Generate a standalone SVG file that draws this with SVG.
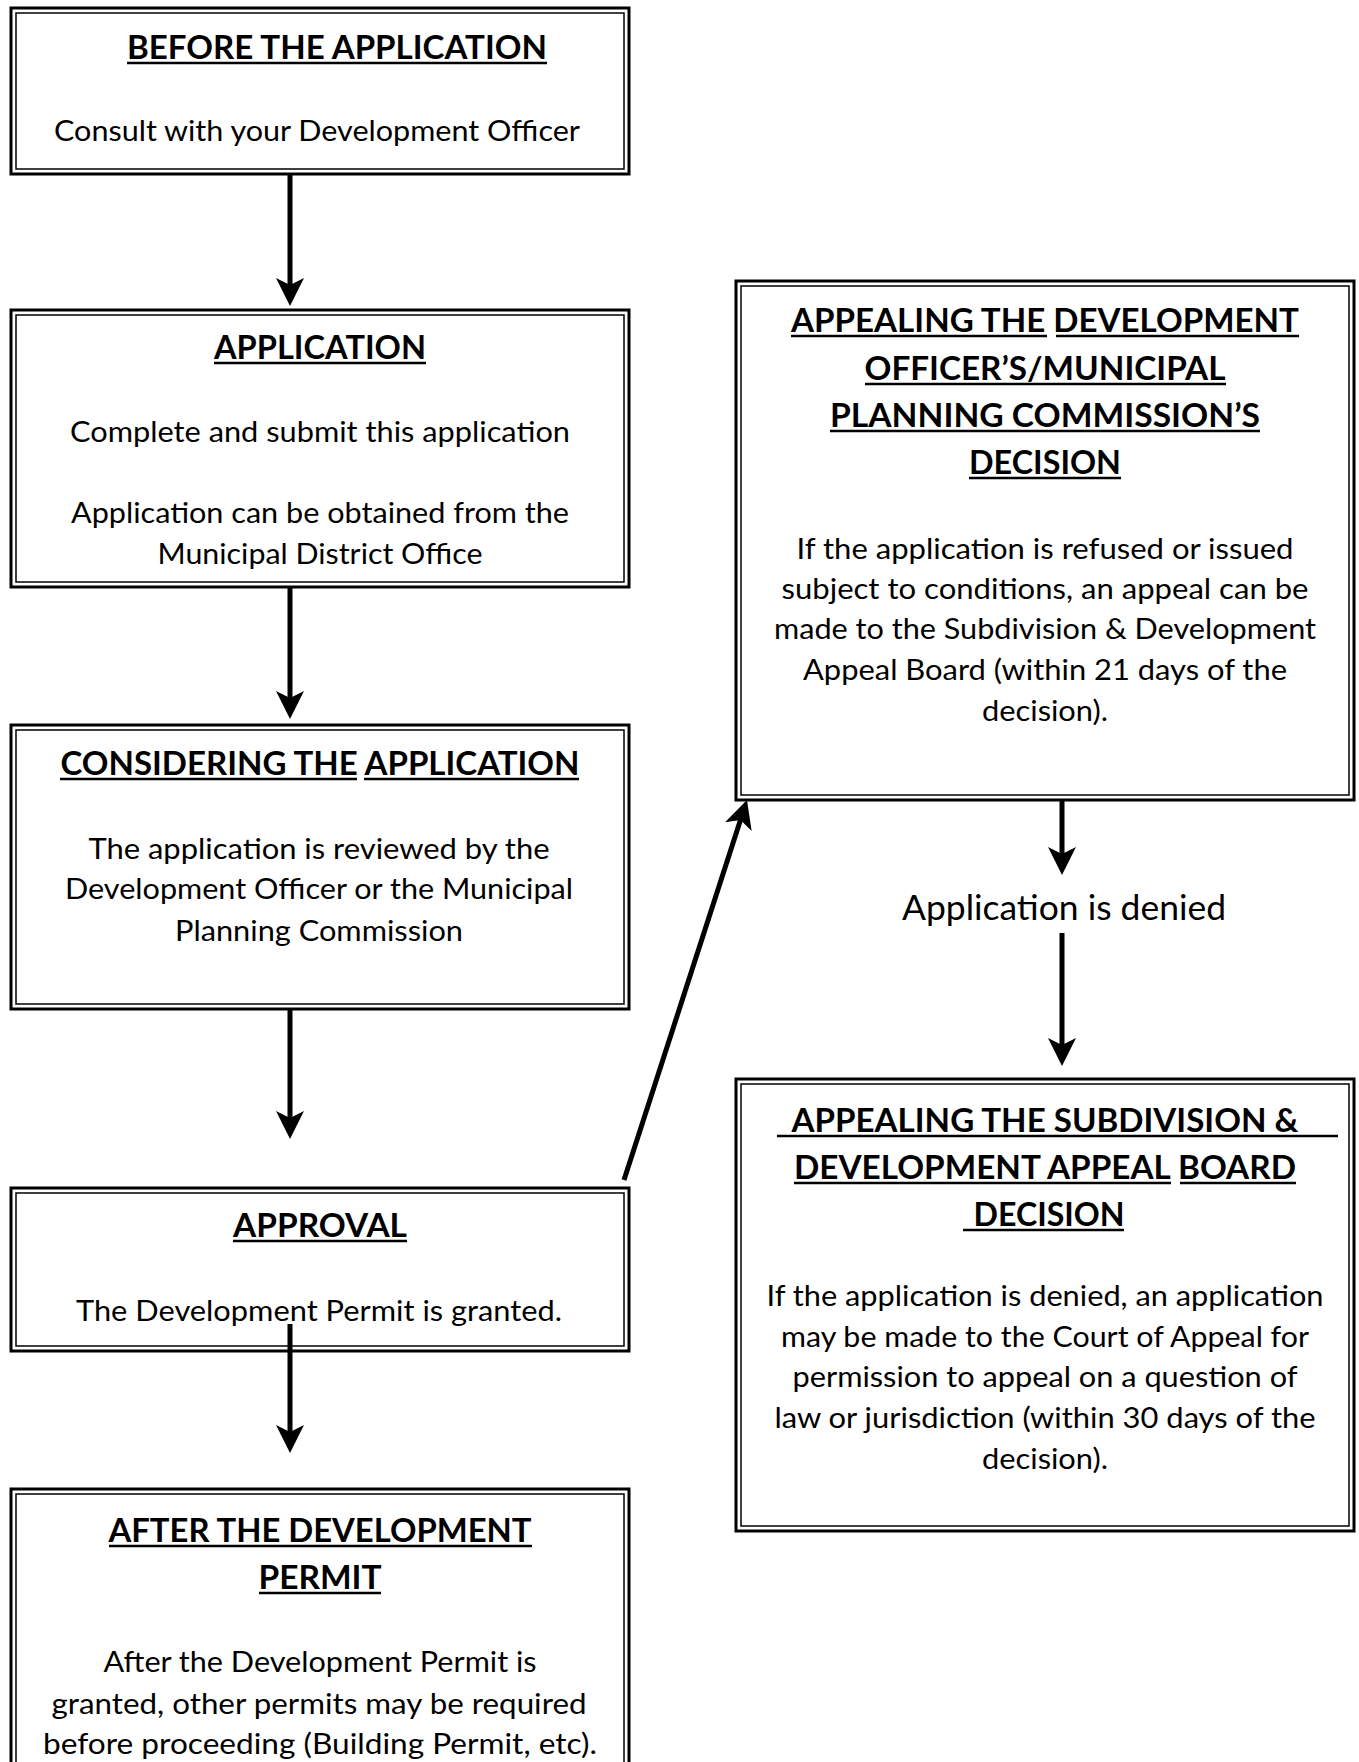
<svg xmlns="http://www.w3.org/2000/svg" width="1359" height="1762" viewBox="0 0 1359 1762">
<defs>
<style>
.outer{fill:#fff;stroke:#000;stroke-width:3}
.inner{fill:none;stroke:#000;stroke-width:1.5}
.t{font-family:Lato,"Open Sans","Liberation Sans",sans-serif;font-weight:bold;font-size:33px;fill:#000;text-anchor:middle}
.b{font-family:Lato,"Open Sans","Liberation Sans",sans-serif;font-size:29px;fill:#000;text-anchor:middle}
.lbl{font-family:Lato,"Open Sans","Liberation Sans",sans-serif;font-size:34px;fill:#000;text-anchor:middle}
.u{stroke:#000;stroke-width:2.5}
.c{stroke:#000;stroke-width:5;fill:none;marker-end:url(#ah)}
</style>
<marker id="ah" viewBox="0 0 28 28" refX="20" refY="14" markerWidth="28" markerHeight="28" markerUnits="userSpaceOnUse" orient="auto">
<path d="M0,0 L28,14 L0,28 L7,14 z" fill="#000"/>
</marker>
</defs>
<rect width="1359" height="1762" fill="#fff"/>

<g id="before">
<rect class="outer" x="11" y="8" width="618" height="166"/>
<rect class="inner" x="16" y="13" width="608" height="156"/>
<text class="t" x="337" y="59" textLength="420" lengthAdjust="spacingAndGlyphs">BEFORE THE APPLICATION</text>
<line class="u" x1="127" y1="63" x2="547" y2="63"/>
<text class="b" x="317" y="141" textLength="526" lengthAdjust="spacingAndGlyphs">Consult with your Development Officer</text>
</g>

<g id="application">
<rect class="outer" x="11" y="310" width="618" height="277"/>
<rect class="inner" x="16" y="315" width="608" height="267"/>
<text class="t" x="320" y="359" textLength="212" lengthAdjust="spacingAndGlyphs">APPLICATION</text>
<line class="u" x1="214" y1="363" x2="426" y2="363"/>
<text class="b" x="320" y="442" textLength="500" lengthAdjust="spacingAndGlyphs">Complete and submit this application</text>
<text class="b" x="320" y="523" textLength="498" lengthAdjust="spacingAndGlyphs">Application can be obtained from the</text>
<text class="b" x="320" y="564" textLength="325" lengthAdjust="spacingAndGlyphs">Municipal District Office</text>
</g>

<g id="considering">
<rect class="outer" x="11" y="725" width="618" height="284"/>
<rect class="inner" x="16" y="730" width="608" height="274"/>
<text class="t" x="320" y="775" textLength="519" lengthAdjust="spacingAndGlyphs">CONSIDERING THE APPLICATION</text>
<line class="u" x1="60" y1="779" x2="357" y2="779"/>
<line class="u" x1="364" y1="779" x2="579" y2="779"/>
<text class="b" x="319" y="859" textLength="461" lengthAdjust="spacingAndGlyphs">The application is reviewed by the</text>
<text class="b" x="319" y="899" textLength="508" lengthAdjust="spacingAndGlyphs">Development Officer or the Municipal</text>
<text class="b" x="319" y="941" textLength="288" lengthAdjust="spacingAndGlyphs">Planning Commission</text>
</g>

<g id="approval">
<rect class="outer" x="11" y="1188" width="618" height="163"/>
<rect class="inner" x="16" y="1193" width="608" height="153"/>
<text class="t" x="320" y="1237" textLength="174" lengthAdjust="spacingAndGlyphs">APPROVAL</text>
<line class="u" x1="233" y1="1241" x2="407" y2="1241"/>
<text class="b" x="319" y="1321" textLength="486" lengthAdjust="spacingAndGlyphs">The Development Permit is granted.</text>
</g>

<g id="after">
<rect class="outer" x="11" y="1489" width="618" height="290"/>
<rect class="inner" x="16" y="1494" width="608" height="280"/>
<text class="t" x="320" y="1542" textLength="423" lengthAdjust="spacingAndGlyphs">AFTER THE DEVELOPMENT</text>
<line class="u" x1="109" y1="1546" x2="532" y2="1546"/>
<text class="t" x="320" y="1589" textLength="123" lengthAdjust="spacingAndGlyphs">PERMIT</text>
<line class="u" x1="259" y1="1593" x2="381" y2="1593"/>
<text class="b" x="320" y="1672" textLength="433" lengthAdjust="spacingAndGlyphs">After the Development Permit is</text>
<text class="b" x="319" y="1714" textLength="535" lengthAdjust="spacingAndGlyphs">granted, other permits may be required</text>
<text class="b" x="320" y="1754" textLength="554" lengthAdjust="spacingAndGlyphs">before proceeding (Building Permit, etc).</text>
</g>

<g id="appeal-officer">
<rect class="outer" x="736" y="281" width="618" height="519"/>
<rect class="inner" x="741" y="286" width="608" height="509"/>
<text class="t" x="1045" y="332" textLength="508" lengthAdjust="spacingAndGlyphs">APPEALING THE DEVELOPMENT</text>
<line class="u" x1="791" y1="336" x2="1047" y2="336"/>
<line class="u" x1="1056" y1="336" x2="1299" y2="336"/>
<text class="t" x="1045" y="380" textLength="361" lengthAdjust="spacingAndGlyphs">OFFICER’S/MUNICIPAL</text>
<line class="u" x1="865" y1="384" x2="1226" y2="384"/>
<text class="t" x="1045" y="427" textLength="430" lengthAdjust="spacingAndGlyphs">PLANNING COMMISSION’S</text>
<line class="u" x1="830" y1="431" x2="1260" y2="431"/>
<text class="t" x="1045" y="474" textLength="152" lengthAdjust="spacingAndGlyphs">DECISION</text>
<line class="u" x1="969" y1="478" x2="1121" y2="478"/>
<text class="b" x="1045" y="559" textLength="497" lengthAdjust="spacingAndGlyphs">If the application is refused or issued</text>
<text class="b" x="1045" y="599" textLength="527" lengthAdjust="spacingAndGlyphs">subject to conditions, an appeal can be</text>
<text class="b" x="1045" y="639" textLength="542" lengthAdjust="spacingAndGlyphs">made to the Subdivision &amp; Development</text>
<text class="b" x="1045" y="680" textLength="484" lengthAdjust="spacingAndGlyphs">Appeal Board (within 21 days of the</text>
<text class="b" x="1045" y="721" textLength="126" lengthAdjust="spacingAndGlyphs">decision).</text>
</g>

<g id="denied-label">
<text class="lbl" x="1064" y="920" textLength="324" lengthAdjust="spacingAndGlyphs">Application is denied</text>
</g>

<g id="appeal-board">
<rect class="outer" x="736" y="1079" width="618" height="452"/>
<rect class="inner" x="741" y="1084" width="608" height="442"/>
<text class="t" x="1045" y="1132" textLength="507" lengthAdjust="spacingAndGlyphs">APPEALING THE SUBDIVISION &amp;</text>
<line class="u" x1="777" y1="1136" x2="1338" y2="1136"/>
<text class="t" x="1045" y="1179" textLength="502" lengthAdjust="spacingAndGlyphs">DEVELOPMENT APPEAL BOARD</text>
<line class="u" x1="794" y1="1183" x2="1171" y2="1183"/>
<line class="u" x1="1180" y1="1183" x2="1296" y2="1183"/>
<text class="t" x="1049" y="1226" textLength="151" lengthAdjust="spacingAndGlyphs">DECISION</text>
<line class="u" x1="963" y1="1230" x2="1124" y2="1230"/>
<text class="b" x="1045" y="1306" textLength="557" lengthAdjust="spacingAndGlyphs">If the application is denied, an application</text>
<text class="b" x="1045" y="1347" textLength="528" lengthAdjust="spacingAndGlyphs">may be made to the Court of Appeal for</text>
<text class="b" x="1045" y="1387" textLength="505" lengthAdjust="spacingAndGlyphs">permission to appeal on a question of</text>
<text class="b" x="1045" y="1428" textLength="541" lengthAdjust="spacingAndGlyphs">law or jurisdiction (within 30 days of the</text>
<text class="b" x="1045" y="1469" textLength="126" lengthAdjust="spacingAndGlyphs">decision).</text>
</g>

<g id="connectors">
<line class="c" x1="290" y1="174" x2="290" y2="298"/>
<line class="c" x1="290" y1="587" x2="290" y2="711"/>
<line class="c" x1="290" y1="1009" x2="290" y2="1131"/>
<line class="c" x1="290" y1="1324" x2="290" y2="1445"/>
<line class="c" x1="624" y1="1180" x2="744.5" y2="807.6"/>
<line class="c" x1="1062" y1="800" x2="1062" y2="867"/>
<line class="c" x1="1062" y1="933" x2="1062" y2="1058"/>
</g>
</svg>
